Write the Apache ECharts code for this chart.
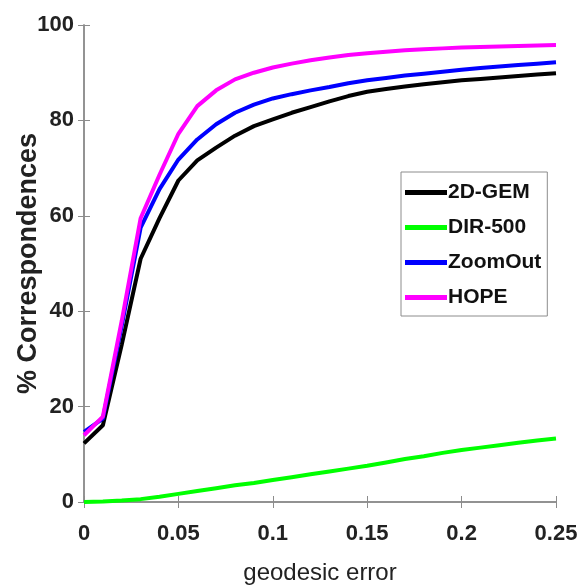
<!DOCTYPE html>
<html>
<head>
<meta charset="utf-8">
<script src="https://cdn.jsdelivr.net/npm/echarts@6/dist/echarts.min.js"></script>
<style>
html,body{margin:0;padding:0;background:#fff;}
#chart{width:579px;height:586px;}
</style>
</head>
<body>
<div id="chart"></div>
<script>
// geodesic error samples
var errors = [0,0.01,0.02,0.03,0.04,0.05,0.06,0.07,0.08,0.09,0.10,0.11,0.12,0.13,0.14,0.15,0.16,0.17,0.18,0.19,0.20,0.21,0.22,0.23,0.24,0.25];
var gem2d = [12.3,16.1,33,51,59.5,67.4,71.6,74.3,76.8,78.8,80.2,81.6,82.8,84,85.1,86,86.6,87.1,87.6,88,88.4,88.7,89,89.3,89.6,89.9];
var dir500 = [0,0.1,0.3,0.6,1.1,1.7,2.3,2.9,3.5,4.0,4.6,5.2,5.8,6.4,7.0,7.6,8.3,9.0,9.6,10.3,10.9,11.4,11.9,12.4,12.9,13.3];
var zoomOut = [14.7,17.5,37,57.5,65.6,71.8,76,79.2,81.6,83.3,84.6,85.5,86.3,87,87.8,88.4,88.9,89.4,89.8,90.2,90.6,91,91.3,91.6,91.9,92.2];
var hope = [14.0,17.9,38,59.5,68.6,77.2,83,86.3,88.6,90,91.1,91.9,92.6,93.2,93.7,94.1,94.4,94.7,94.9,95.1,95.3,95.4,95.5,95.6,95.7,95.8];
var names = ['2D-GEM','DIR-500','ZoomOut','HOPE'];
var colors = ['#000000','#00ff00','#0000ff','#ff00ff'];
var allData = [gem2d, dir500, zoomOut, hope];

var font = 'Liberation Sans Narrow, Liberation Sans, Arial, sans-serif';
var axisGray = '#8c8c8c';

function pairs(ys){
    var out = [];
    for(var i=0;i<errors.length;i++){
        out.push([errors[i], ys[i]]);
    }
    return out;
}

var seriesList = [];
for(var k=0;k<names.length;k++){
    seriesList.push({
        name: names[k],
        type: 'line',
        data: pairs(allData[k]),
        showSymbol: false,
        smooth: false,
        lineStyle: {color: colors[k], width: 4},
        itemStyle: {color: colors[k]}
    });
}

var mychart = echarts.init(document.getElementById('chart'));
mychart.setOption({
    animation: false,
    grid: {left: 84, right: 23, top: 25, bottom: 84, outerBoundsMode: 'none', containLabel: false},
    legend: {
        orient: 'vertical',
        left: 401,
        top: 172,
        data: names,
        icon: 'rect',
        itemWidth: 42,
        itemHeight: 5,
        itemGap: 14,
        padding: [10, 6, 8, 4],
        borderColor: axisGray,
        borderWidth: 1,
        backgroundColor: '#fff',
        textStyle: {fontFamily: font, fontWeight: 'bold', fontSize: 21, color: '#111', padding: [0,0,0,-4]}
    },
    xAxis: [{
        type: 'value',
        min: 0, max: 0.25, interval: 0.05,
        name: 'geodesic error',
        nameLocation: 'middle',
        nameGap: 59,
        nameMoveOverlap: false,
        nameTextStyle: {fontFamily: font, fontSize: 24, color: '#222'},
        axisLine: {show: true, lineStyle: {color: axisGray, width: 1.5}},
        axisTick: {show: true, inside: true, length: 6, lineStyle: {color: axisGray}},
        axisLabel: {fontFamily: font, fontWeight: 'bold', fontSize: 22, color: '#222', margin: 21},
        splitLine: {show: false}
    }, {
        type: 'value', position: 'top',
        min: 0, max: 0.25, interval: 0.05,
        axisLine: {show: true, lineStyle: {color: axisGray, width: 1.5}},
        axisTick: {show: true, inside: true, length: 6, lineStyle: {color: axisGray}},
        axisLabel: {show: false},
        splitLine: {show: false}
    }],
    yAxis: [{
        type: 'value',
        min: 0, max: 100, interval: 20,
        name: '% Correspondences',
        nameLocation: 'middle',
        nameGap: 42,
        nameMoveOverlap: false,
        nameTextStyle: {fontFamily: font, fontWeight: 'bold', fontSize: 27, color: '#222'},
        axisLine: {show: true, lineStyle: {color: axisGray, width: 1.5}},
        axisTick: {show: true, inside: true, length: 6, lineStyle: {color: axisGray}},
        axisLabel: {fontFamily: font, fontWeight: 'bold', fontSize: 22, color: '#222', margin: 10},
        splitLine: {show: false}
    }, {
        type: 'value', position: 'right',
        min: 0, max: 100, interval: 20,
        axisLine: {show: true, lineStyle: {color: axisGray, width: 1.5}},
        axisTick: {show: true, inside: true, length: 6, lineStyle: {color: axisGray}},
        axisLabel: {show: false},
        splitLine: {show: false}
    }],
    series: seriesList
});
</script>
</body>
</html>
